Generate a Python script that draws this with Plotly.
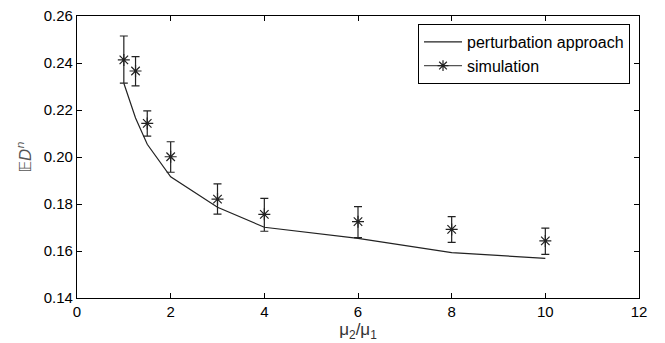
import plotly.graph_objects as go

# Data
ratio = [1, 1.25, 1.5, 2, 3, 4, 6, 8, 10]
perturbation = [0.2314, 0.2166, 0.2054, 0.1916, 0.1786, 0.1701, 0.1654, 0.1593, 0.1569]
sim_mean = [0.2413, 0.2366, 0.2143, 0.2001, 0.1821, 0.1756, 0.1725, 0.1692, 0.1643]
sim_upper = [0.2515, 0.2427, 0.2196, 0.2065, 0.1886, 0.1824, 0.1789, 0.1746, 0.1697]
sim_lower = [0.2314, 0.2303, 0.2089, 0.1935, 0.1757, 0.1684, 0.1657, 0.1637, 0.1586]

err_plus = [u - m for u, m in zip(sim_upper, sim_mean)]
err_minus = [m - l for m, l in zip(sim_mean, sim_lower)]

fig = go.Figure()
fig.add_trace(go.Scatter(
    x=ratio, y=perturbation, mode="lines", name="perturbation approach",
    line=dict(color="#222222", width=1.2),
))
fig.add_trace(go.Scatter(
    x=ratio, y=sim_mean, mode="markers", name="simulation", showlegend=False,
    marker=dict(symbol="asterisk-open", size=10, color="#222222", line=dict(width=1.2, color="#222222")),
    error_y=dict(type="data", symmetric=False, array=err_plus, arrayminus=err_minus,
                 color="#222222", thickness=1.2, width=4),
))
fig.add_trace(go.Scatter(
    x=[None], y=[None], mode="lines+markers", name="simulation",
    line=dict(color="#555555", width=1.2),
    marker=dict(symbol="asterisk-open", size=9, color="#222222", line=dict(width=1.2, color="#222222")),
))

axis_common = dict(
    showgrid=False, zeroline=False, showline=True, linecolor="black", linewidth=1.2,
    mirror="ticks", ticks="inside", ticklen=5, tickcolor="black", automargin=False,
    ticklabeloverflow="allow",
    tickfont=dict(family="Liberation Sans, Arial, sans-serif", size=15, color="black"),
)

# the page body adds an 8px offset, so the figure is sized to sit inside the window
fig.update_layout(
    width=657, height=335,
    margin=dict(l=69, r=26, t=8, b=45),
    paper_bgcolor="white", plot_bgcolor="white",
    xaxis=dict(range=[0, 12], tickvals=[0, 2, 4, 6, 8, 10, 12],
               title=dict(text="μ<sub>2</sub>/μ<sub>1</sub>", standoff=0,
                          font=dict(family="Liberation Sans, Arial, sans-serif", size=17, color="#333333")),
               **axis_common),
    yaxis=dict(range=[0.14, 0.26], tickvals=[0.14, 0.16, 0.18, 0.20, 0.22, 0.24, 0.26],
               tickformat=".2f",
               title=dict(text="𝔼<i>D</i><sup><i>n</i></sup>", standoff=8,
                          font=dict(family="DejaVu Sans, sans-serif", size=16, color="#555555")),
               **axis_common),
    legend=dict(x=0.984, y=0.972, xanchor="right", yanchor="top",
                bordercolor="black", borderwidth=1, bgcolor="white",
                font=dict(family="Liberation Sans, Arial, sans-serif", size=16, color="black"),
                tracegroupgap=0, itemwidth=38),
    showlegend=True,
)

fig.write_html("out.html")
